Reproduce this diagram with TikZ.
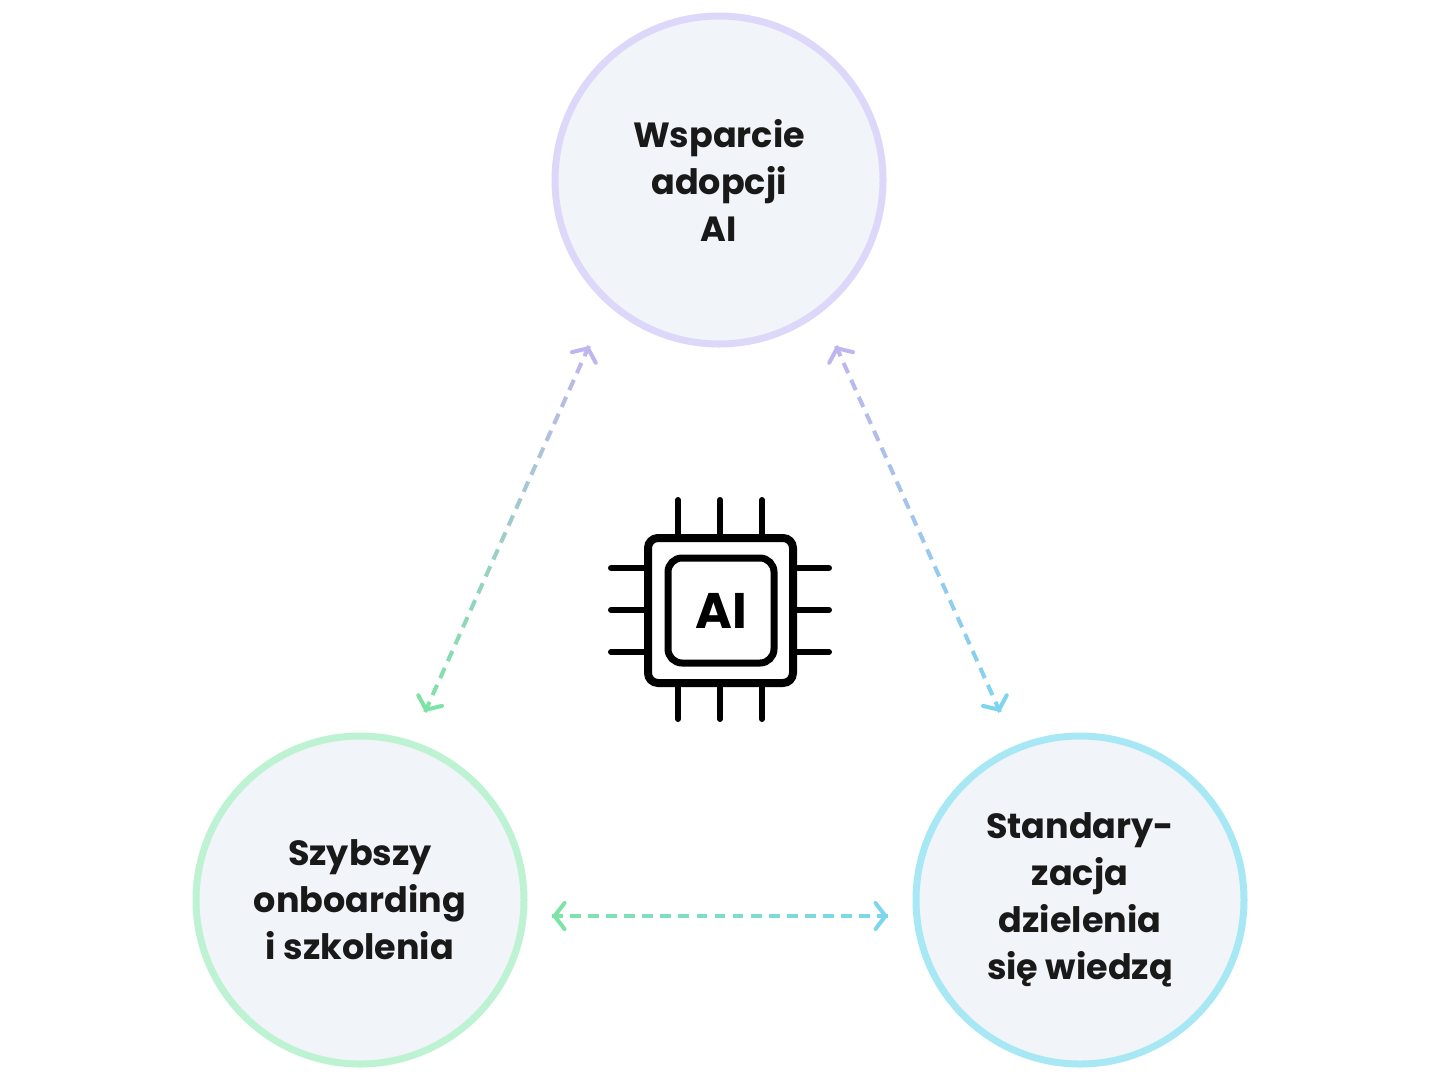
\documentclass[tikz,border=0pt]{standalone}
\usepackage{fontspec}
\setmainfont{Poppins}
\usetikzlibrary{arrows.meta,calc}
\definecolor{cfill}{HTML}{F1F4F9}
\definecolor{clav}{HTML}{DDD8FA}
\definecolor{cgrn}{HTML}{BDF2D3}
\definecolor{ccya}{HTML}{A8E8F5}
\definecolor{alav}{HTML}{BFB6EF}
\definecolor{agrn}{HTML}{7EE3A6}
\definecolor{acya}{HTML}{7DD6EE}
\newcommand{\gradline}[5]{%
  \foreach \i in {0,...,#5}{%
    \pgfmathsetmacro\s{\i/(#5+0.6)}%
    \pgfmathsetmacro\e{(\i+0.6)/(#5+0.6)}%
    \pgfmathsetmacro\p{100*(1-(\i+0.3)/(#5+0.6))}%
    \draw[line width=4pt,#3!\p!#4] ($(#1)!\s!(#2)$) -- ($(#1)!\e!(#2)$);
  }%
  \draw[line width=4pt,#3,line cap=round,-{Straight Barb[length=10pt,width=26pt,line cap=round]}] ($(#1)!3pt!(#2)$) -- (#1);
  \draw[line width=4pt,#4,line cap=round,-{Straight Barb[length=10pt,width=26pt,line cap=round]}] ($(#2)!3pt!(#1)$) -- (#2);
}
\tikzset{
  bubble/.style={circle,minimum size=328pt,line width=7pt,fill=cfill,align=center,
    font=\fontsize{35}{47}\selectfont\bfseries,text=black!90},
  pin/.style={line width=6pt,line cap=round}
}
\begin{document}
\begin{tikzpicture}[x=1pt,y=-1pt]
\useasboundingbox[fill=white] (0,0) rectangle (1440,1080);
\node[bubble,draw=clav] (top) at (719,180) {Wsparcie\\adopcji\\AI};
\node[bubble,draw=cgrn] (left) at (360,900) {Szybszy\\onboarding\\i szkolenia};
\node[bubble,draw=ccya] (right) at (1080,900) {Standary-\\zacja\\dzielenia\\się wiedzą};
\coordinate (t1) at (589,346);
\coordinate (l1) at (425,712);
\coordinate (t2) at (836,346);
\coordinate (r1) at (1000,712);
\coordinate (l2) at (552,916);
\coordinate (r2) at (888,916);
\gradline{t1}{l1}{alav}{agrn}{21}
\gradline{t2}{r1}{alav}{acya}{21}
\gradline{l2}{r2}{agrn}{acya}{18}
% chip
\draw[line width=8pt,rounded corners=10pt] (648,538) rectangle (793,683);
\draw[line width=7pt,rounded corners=14pt] (668,558) rectangle (774,663);
\node (ai) at (721,611) {\fontsize{50}{50}\selectfont\bfseries AI};
\foreach \x in {678,720,762}{
  \draw[pin] (\x,500) -- (\x,536);
  \draw[pin] (\x,685) -- (\x,719);
}
\foreach \y in {568,610,652}{
  \draw[pin] (611,\y) -- (646,\y);
  \draw[pin] (795,\y) -- (829,\y);
}
\end{tikzpicture}
\end{document}
